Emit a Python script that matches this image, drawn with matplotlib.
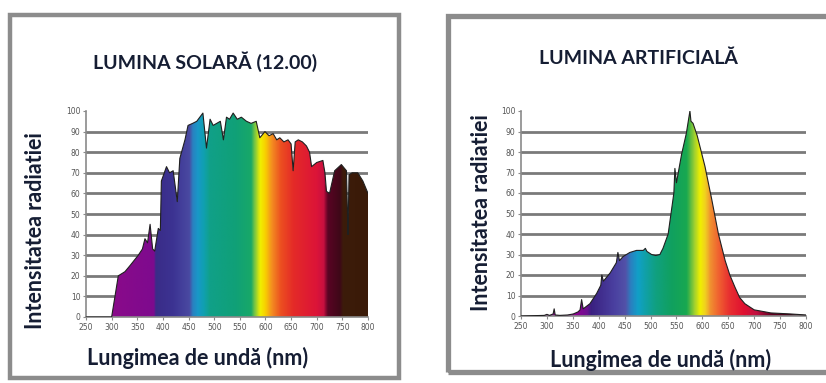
import numpy as np
import matplotlib
matplotlib.use("Agg")
import matplotlib.pyplot as plt
from matplotlib.colors import LinearSegmentedColormap
from matplotlib.patches import Rectangle

# ---------------- data ----------------
solar_nm = [250, 300, 313, 326, 336, 352, 360, 365, 370, 375, 380, 384, 391, 395, 397,
            407, 413, 420, 428, 433, 443, 449, 458, 466, 472, 478, 485, 492, 498, 505,
            512, 518, 524, 530, 537, 545, 553, 563, 572, 582, 589, 599, 607, 615, 622,
            628, 636, 644, 650, 654, 658, 664, 672, 680, 686, 690, 700, 712, 716, 719,
            725, 735, 748, 758, 760, 761, 763, 769, 780, 790, 800]
solar_val = [0, 0, 20, 22, 25, 30, 33, 38, 36, 45, 33, 32, 43, 42, 66,
             73, 70, 71, 56, 77, 86, 93, 94, 95, 97, 99, 82, 96, 93, 94,
             95, 86, 97, 96, 99, 96, 97, 95, 94, 95, 87, 90, 88, 89, 86,
             87, 85, 86, 84, 71, 85, 86, 85, 83, 80, 73, 75, 76, 70, 61,
             60, 71, 74, 71, 50, 40, 69, 70, 70, 66, 60]

art_nm = [250, 295, 300, 305, 312, 314, 316, 325, 340, 351, 360, 364, 367, 370, 383,
          396, 404, 406, 409, 422, 434, 437, 440, 447, 460, 473, 486, 490, 493, 502,
          510, 518, 524, 534, 545, 547, 550, 560, 569, 576, 578, 582, 590, 605, 618,
          631, 644, 653, 663, 672, 682, 700, 732, 770, 800]
art_val = [0, 0.3, 0.8, 0.3, 1.0, 3.5, 0.5, 0.3, 0.5, 1.0, 2.0, 3.0, 8.0, 3.5, 6.0,
           11, 15, 20, 17, 21, 26, 31, 27, 29, 31, 32, 32, 33, 31.5, 30,
           29.5, 30, 33, 40, 60, 72, 65, 79, 89, 100, 95, 94, 88, 73, 57,
           40, 27, 20, 14, 9, 6, 3, 1.5, 1.0, 0.5]

x_ticks = [250, 300, 350, 400, 450, 500, 550, 600, 650, 700, 750, 800]
y_ticks = [0, 10, 20, 30, 40, 50, 60, 70, 80, 90, 100]
grid_vals = [10, 20, 30, 40, 50, 60, 70, 80, 90]

titles = ["LUMINA SOLARĂ (12.00)", "LUMINA ARTIFICIALĂ"]
ylabel = "Intensitatea radiatiei"
xlabel = "Lungimea de undă (nm)"

# ---------------- colour stops (style) ----------------
solar_stops = [(250, "#8a0a8a"), (300, "#8a0a8a"), (382, "#7e0a8e"), (386, "#3a2c88"),
               (420, "#3c3392"), (452, "#4a4aa2"), (458, "#2a80c0"), (468, "#1898c8"),
               (480, "#10a0b0"), (492, "#10a088"), (540, "#10a078"), (572, "#18a868"),
               (580, "#80c840"), (590, "#f0f000"), (600, "#f8d000"), (612, "#f49020"),
               (630, "#ec5020"), (655, "#e42a28"), (700, "#dc1438"), (714, "#c81040"),
               (722, "#5a0424"), (746, "#3e0818"), (752, "#3c1c0a"), (800, "#3a1a08")]
art_stops = [(250, "#900090"), (355, "#900090"), (378, "#6a1090"), (385, "#3a2080"),
             (430, "#4a40a0"), (452, "#5252a8"), (462, "#2a80c0"), (476, "#10a0c8"),
             (490, "#10a0a8"), (510, "#10a080"), (540, "#10a060"), (570, "#18a850"),
             (585, "#a0d030"), (596, "#f0f000"), (606, "#f0d020"), (616, "#f09030"),
             (632, "#f06030"), (652, "#e83030"), (680, "#e01030"), (705, "#c01040"),
             (735, "#600020"), (800, "#300010")]

W, H = 826, 383
fig = plt.figure(figsize=(W / 100, H / 100), dpi=100)
fig.patch.set_facecolor("white")

text_col = "#151d33"
tick_col = "#555555"
grid_col = "#7a7a7a"


def make_cmap(stops):
    lo, hi = stops[0][0], stops[-1][0]
    return LinearSegmentedColormap.from_list(
        "spec", [((nm - lo) / (hi - lo), c) for nm, c in stops], N=1024)


def draw_panel(ax, nm, val, stops):
    ax.set_xlim(250, 800)
    ax.set_ylim(0, 100)
    ax.set_facecolor("none")
    for g in grid_vals:
        ax.axhline(g, color=grid_col, lw=2.0, zorder=1)
    grad = np.linspace(250, 800, 1100).reshape(1, -1)
    im = ax.imshow(grad, cmap=make_cmap(stops), vmin=250, vmax=800,
                   extent=[250, 800, 0, 100], aspect="auto", zorder=2,
                   interpolation="bilinear")
    poly = ax.fill_between(nm, 0, val, color="none", lw=0, zorder=2)
    path = poly.get_paths()[0]
    im.set_clip_path(path, transform=ax.transData)
    ax.plot(nm, val, color="#202020", lw=0.8, zorder=3)
    for s in ["top", "right"]:
        ax.spines[s].set_visible(False)
    for s in ["left", "bottom"]:
        ax.spines[s].set_color("#8a8a8a")
        ax.spines[s].set_linewidth(1.2)
    ax.set_xticks(x_ticks)
    ax.set_yticks(y_ticks)
    ax.tick_params(axis="both", colors="#8a8a8a", labelcolor=tick_col,
                   labelsize=5.5, length=2.5, width=0.8, pad=1.5)


# left panel
axL = fig.add_axes([86 / W, (H - 317) / H, 282 / W, 206 / H])
draw_panel(axL, solar_nm, solar_val, solar_stops)
# right panel
axR = fig.add_axes([521 / W, (H - 316) / H, 285 / W, 205 / H])
draw_panel(axR, art_nm, art_val, art_stops)

# frames
fig.add_artist(Rectangle((10 / W, (H - 378) / H), 389 / W, 363 / H,
                         transform=fig.transFigure, fill=False,
                         edgecolor="#8c8c8c", lw=3.2))
fig.add_artist(Rectangle((448 / W, (H - 372) / H), 400 / W, 356 / H,
                         transform=fig.transFigure, fill=False,
                         edgecolor="#8c8c8c", lw=3.8, clip_on=False))

fam = ["Lato", "DejaVu Sans"]
fig.text(205 / W, 1 - 62 / H, titles[0], ha="center", va="center",
         fontsize=14, fontweight="bold", color=text_col, family=fam)
fig.text(638 / W, 1 - 58 / H, titles[1], ha="center", va="center",
         fontsize=14, fontweight="bold", color=text_col, family=fam)

fig.text(36 / W, 1 - 231 / H, ylabel, ha="center", va="center", rotation=90,
         fontsize=15.5, fontweight="bold", color=text_col, family=fam)
fig.text(482 / W, 1 - 213 / H, ylabel, ha="center", va="center", rotation=90,
         fontsize=15.5, fontweight="bold", color=text_col, family=fam)

fig.text(198 / W, 1 - 358 / H, xlabel, ha="center", va="center",
         fontsize=15.5, fontweight="bold", color=text_col, family=fam)
fig.text(661 / W, 1 - 360 / H, xlabel, ha="center", va="center",
         fontsize=15.5, fontweight="bold", color=text_col, family=fam)

fig.savefig("out.png", dpi=100, facecolor="white")
